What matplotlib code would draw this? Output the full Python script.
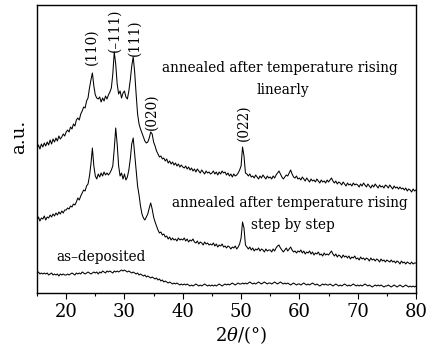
import numpy as np
import matplotlib
matplotlib.use("Agg")
import matplotlib.pyplot as plt
from matplotlib.ticker import MultipleLocator

plt.rcParams['font.family'] = ['DejaVu Serif']
plt.rcParams['mathtext.fontset'] = 'dejavuserif'

# 2theta grid (degrees), sampled every 0.25
two_theta = np.arange(15.0, 80.001, 0.25)

# annealed after temperature rising linearly (arbitrary units)
linear = [
    146, 149, 145, 150, 147, 151, 148, 152, 149, 154, 150, 155, 152, 156, 153, 158, 155, 157, 160, 158,
    162, 164, 162, 167, 165, 170, 168, 174, 176, 174, 180, 183, 187, 186, 193, 196, 206, 214, 221, 208,
    199, 196, 195, 197, 192, 196, 193, 198, 195, 199, 202, 206, 220, 242, 230, 210, 200, 203, 196, 201,
    203, 197, 195, 203, 214, 228, 237, 222, 200, 180, 170, 165, 161, 157, 153, 151, 152, 156, 162, 160,
    152, 148, 143, 140, 137, 138, 135, 136, 133, 135, 131, 133, 130, 132, 129, 131, 128, 130, 127, 129,
    127, 126, 128, 125, 127, 124, 126, 123, 125, 122, 125, 123, 121, 124, 122, 120, 123, 121, 122, 120,
    121, 123, 120, 122, 119, 122, 120, 123, 121, 122, 119, 121, 118, 120, 117, 120, 118, 119, 121, 124,
    128, 147, 138, 121, 120, 118, 120, 117, 118, 116, 119, 117, 115, 118, 116, 119, 117, 115, 118, 116,
    117, 115, 118, 116, 119, 121, 123, 120, 117, 115, 117, 119, 118, 121, 124, 120, 117, 116, 118, 115,
    116, 114, 117, 115, 113, 116, 114, 112, 115, 113, 114, 112, 115, 113, 111, 114, 112, 113, 111, 114,
    112, 114, 116, 113, 111, 113, 110, 112, 111, 109, 112, 110, 108, 111, 109, 110, 108, 111, 109, 110,
    109, 107, 110, 108, 111, 109, 107, 110, 108, 106, 109, 107, 110, 108, 106, 109, 107, 108, 106, 109,
    108, 106, 109, 107, 105, 108, 106, 107, 105, 107, 105, 106, 104, 106, 103, 105, 104, 102, 105, 103,
    104,
]

# annealed after temperature rising step by step
stepwise = [
    74, 77, 73, 76, 75, 78, 74, 77, 76, 79, 77, 80, 78, 81, 79, 82, 80, 83, 81, 84,
    84, 86, 85, 88, 87, 90, 89, 92, 96, 94, 98, 101, 104, 103, 108, 110, 118, 130, 146, 128,
    118, 115, 120, 117, 121, 118, 122, 119, 121, 119, 121, 124, 128, 145, 166, 150, 128, 118, 121, 115,
    120, 114, 117, 124, 135, 150, 156, 140, 124, 108, 99, 88, 80, 76, 74, 77, 80, 86, 91, 85,
    77, 72, 68, 64, 61, 62, 59, 60, 57, 58, 55, 57, 54, 56, 54, 55, 53, 56, 54, 55,
    54, 56, 53, 55, 52, 54, 53, 55, 52, 51, 53, 50, 52, 51, 49, 52, 50, 51, 49, 50,
    49, 51, 48, 50, 47, 49, 48, 50, 47, 48, 46, 48, 47, 45, 47, 46, 48, 45, 47, 50,
    56, 72, 66, 49, 47, 45, 47, 44, 46, 43, 45, 44, 46, 43, 45, 44, 42, 45, 43, 44,
    44, 42, 45, 43, 46, 48, 49, 46, 44, 42, 44, 46, 43, 45, 47, 44, 42, 43, 41, 43,
    42, 44, 41, 43, 40, 42, 41, 43, 40, 42, 39, 41, 40, 42, 39, 40, 38, 41, 39, 40,
    39, 41, 43, 40, 38, 40, 37, 39, 38, 36, 39, 37, 38, 36, 38, 35, 37, 36, 38, 35,
    36, 34, 37, 35, 36, 34, 36, 35, 33, 36, 34, 35, 33, 35, 34, 32, 35, 33, 34, 32,
    34, 33, 32, 34, 32, 33, 31, 33, 32, 30, 33, 31, 32, 30, 32, 31, 30, 32, 30, 31,
    31,
]

# as-deposited
deposited = [
    21, 22, 20, 21, 20, 21, 20, 21, 19, 20, 21, 19, 20, 19, 20, 18, 20, 19, 20, 19,
    19, 20, 19, 20, 21, 20, 19, 21, 20, 21, 20, 22, 21, 20, 21, 22, 21, 20, 21, 22,
    21, 22, 20, 22, 21, 23, 22, 21, 23, 22, 23, 22, 21, 23, 22, 23, 22, 23, 24, 23,
    24, 23, 22, 23, 22, 21, 22, 21, 20, 21, 19, 20, 19, 18, 19, 17, 18, 17, 16, 17,
    16, 15, 16, 14, 15, 13, 14, 12, 13, 12, 11, 12, 11, 10, 11, 10, 11, 10, 9, 10,
    9, 10, 9, 10, 9, 8, 9, 8, 9, 10, 9, 8, 9, 8, 9, 10, 9, 8, 9, 8,
    9, 8, 9, 8, 9, 10, 9, 8, 9, 10, 9, 10, 9, 10, 11, 10, 9, 10, 11, 10,
    10, 11, 10, 11, 10, 11, 12, 11, 10, 11, 10, 11, 12, 11, 10, 11, 12, 11, 10, 11,
    11, 10, 11, 12, 11, 10, 11, 12, 11, 10, 11, 10, 11, 10, 9, 10, 11, 10, 9, 10,
    10, 9, 10, 11, 10, 9, 10, 9, 10, 11, 10, 9, 10, 9, 8, 9, 10, 9, 10, 9,
    9, 10, 9, 8, 9, 10, 9, 8, 9, 8, 9, 10, 9, 8, 9, 8, 9, 10, 9, 8,
    9, 8, 9, 8, 9, 10, 9, 8, 9, 8, 7, 8, 9, 8, 9, 8, 9, 8, 7, 8,
    8, 9, 8, 7, 8, 9, 8, 7, 8, 9, 8, 7, 8, 9, 8, 7, 8, 7, 8, 7,
    8,
]

peak_labels = ["(110)", "(\u2013111)", "(111)", "(020)", "(022)"]
peak_label_x = [24.4, 28.3, 31.7, 34.6, 50.5]
peak_label_y = [247, 264, 256, 182, 171]

curve_texts = ["annealed after temperature rising", "linearly",
               "annealed after temperature rising", "step by step",
               "as\u2013deposited"]
curve_text_x = [56.7, 57.1, 58.4, 58.8, 26.0]
curve_text_y = [226, 204, 91, 69, 37]

fig = plt.figure(figsize=(4.33, 3.50), dpi=100)
ax = fig.add_axes([37 / 433, 57 / 350, 379 / 433, 288 / 350])

for series in (linear, stepwise, deposited):
    ax.plot(two_theta, series, color='black', lw=0.75)

for lab, x, y in zip(peak_labels, peak_label_x, peak_label_y):
    ax.text(x, y, lab, rotation=90, ha='center', va='center', fontsize=9.8)

for lab, x, y in zip(curve_texts, curve_text_x, curve_text_y):
    ax.text(x, y, lab, ha='center', va='center', fontsize=9.8)

ax.set_xlim(15, 80)
ax.set_ylim(1, 289)
ax.set_yticks([])
ax.xaxis.set_major_locator(MultipleLocator(10))
ax.xaxis.set_minor_locator(MultipleLocator(5))
ax.tick_params(axis='x', which='major', direction='out', length=4, width=0.8,
               labelsize=13, pad=3)
ax.tick_params(axis='x', which='minor', direction='out', length=2.5, width=0.8)
for s in ax.spines.values():
    s.set_linewidth(1.0)

fig.text(241 / 433, 1 - 335 / 350, r"2$\theta$/(°)", ha='center', va='center', fontsize=13)
fig.text(19 / 433, 1 - 137 / 350, "a.u.", rotation=90, ha='center', va='center', fontsize=13)

fig.savefig("out.png", dpi=100)
